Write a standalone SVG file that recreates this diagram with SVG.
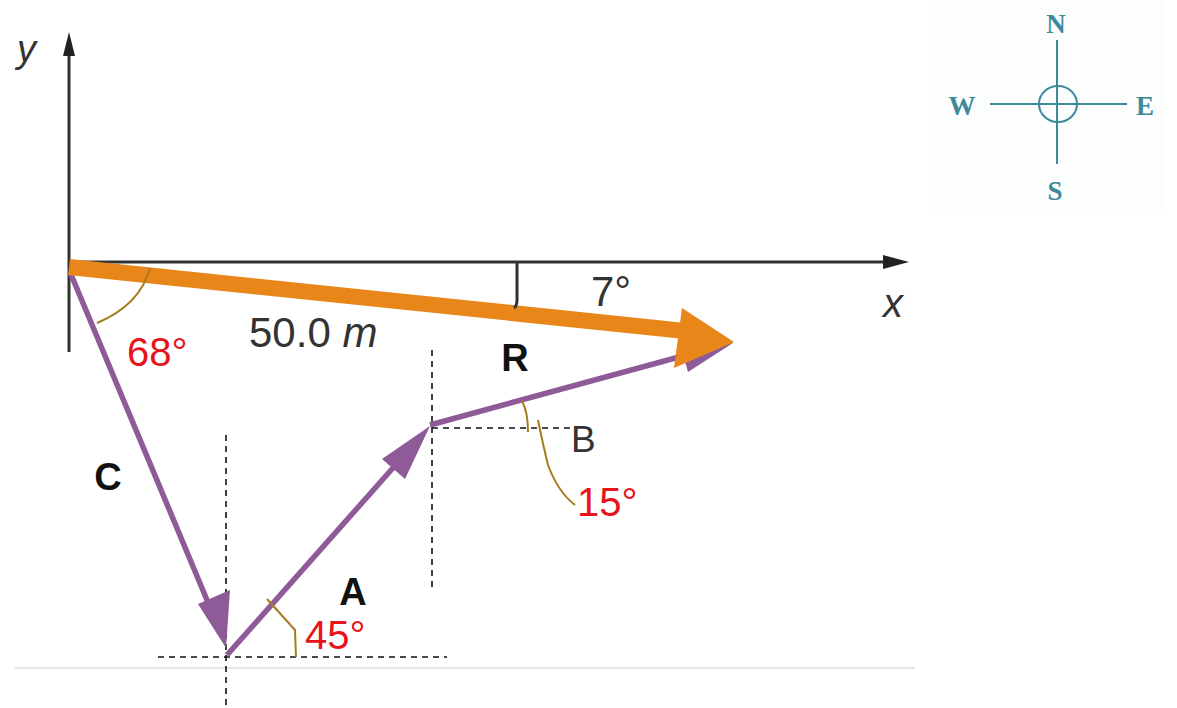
<svg xmlns="http://www.w3.org/2000/svg" width="1177" height="708" viewBox="0 0 1177 708">
<defs>
<style>
.axis{stroke:#333;stroke-width:3;fill:none}
.dash{stroke:#111;stroke-width:1.6;stroke-dasharray:6,5;fill:none}
.vec{stroke:#8e5a98;stroke-width:5.5;fill:none}
.arc{stroke:#a67c1e;stroke-width:2;fill:none}
.lbl{font-family:"Liberation Sans",Arial,sans-serif;fill:#333}
.bold{font-family:"Liberation Sans",Arial,sans-serif;font-weight:bold;fill:#111;font-size:38px}
.red{font-family:"Liberation Sans",Arial,sans-serif;fill:#e8141c;font-size:40px}
.cmp{font-family:"Liberation Serif","Times New Roman",serif;font-weight:bold;fill:#3d8a9c;font-size:27px}
.cline{stroke:#3d8a9c;stroke-width:2;fill:none}
</style>
</defs>
<rect width="1177" height="708" fill="#fff"/>
<line x1="15" y1="668" x2="915" y2="668" stroke="#dcdcdc" stroke-width="1.5"/>

<g id="compass">
<rect x="930" y="0" width="235" height="215" fill="#fcfdfd"/>
<line class="cline" x1="1057" y1="40" x2="1057" y2="164"/>
<line class="cline" x1="990" y1="104" x2="1127" y2="104"/>
<ellipse class="cline" cx="1058" cy="104" rx="19" ry="18"/>
<text class="cmp" x="1056" y="33" text-anchor="middle">N</text>
<text class="cmp" x="962" y="115" text-anchor="middle">W</text>
<text class="cmp" x="1145" y="115" text-anchor="middle">E</text>
<text class="cmp" x="1055" y="200" text-anchor="middle">S</text>
</g>

<g id="axes">
<line class="axis" x1="69" y1="52" x2="69" y2="352"/>
<polygon points="69,32 63,56 75,56" fill="#222"/>
<line class="axis" x1="69" y1="262" x2="884" y2="262"/>
<polygon points="909,262 883,255 883,269" fill="#222"/>
<text class="lbl" x="17" y="62" font-size="38" font-style="italic" fill="#444">y</text>
<text class="lbl" x="883" y="317" font-size="40" font-style="italic" fill="#444">x</text>
</g>

<g id="guides">
<line class="dash" x1="432" y1="350" x2="432" y2="590"/>
<line class="dash" x1="432" y1="428" x2="570" y2="428"/>
<line class="dash" x1="226" y1="435" x2="226" y2="708"/>
<line class="dash" x1="158" y1="657" x2="447" y2="657"/>
</g>

<g id="connectors">
<g id="vecC">
<line class="vec" x1="70" y1="272" x2="212" y2="612"/>
<polygon points="226,648 198,604 230,590" fill="#8e5a98"/>
</g>
<g id="vecA">
<line class="vec" x1="227" y1="655" x2="400" y2="460"/>
<polygon points="430,426 382,459 405,479" fill="#8e5a98"/>
</g>
<g id="vecB">
<line class="vec" x1="430" y1="425" x2="690" y2="354"/>
<polygon points="733,343 680,344 688,372" fill="#8e5a98"/>
</g>
<g id="vecR">
<line x1="69" y1="267" x2="685" y2="331" stroke="#e8861a" stroke-width="16"/>
<polygon points="734,342 682,308 674,368" fill="#e8861a"/>
</g>
</g>

<g id="angles">
<path class="axis" d="M517,263 L517,300 Q517,306 514,308" stroke-width="2"/>
<path class="arc" d="M150,268 Q140,305 97,323"/>
<path class="arc" d="M267,599 L295,630 L296,657"/>
<path class="arc" d="M522,401 Q528,412 528,432"/>
<path class="arc" d="M538,420 Q542,440 548,465 Q558,492 575,505"/>
</g>

<g id="labels">
<text class="lbl" x="591" y="306" font-size="42">7°</text>
<text class="lbl" x="249" y="347" font-size="42">50.0 <tspan font-style="italic">m</tspan></text>
<text class="red" x="127" y="366">68°</text>
<text class="bold" x="515" y="371" text-anchor="middle">R</text>
<text class="lbl" x="571" y="452" font-size="37">B</text>
<text class="red" x="577" y="516">15°</text>
<text class="bold" x="108" y="490" text-anchor="middle">C</text>
<text class="bold" x="353" y="605" text-anchor="middle">A</text>
<text class="red" x="305" y="649" font-size="43">45°</text>
</g>
</svg>
